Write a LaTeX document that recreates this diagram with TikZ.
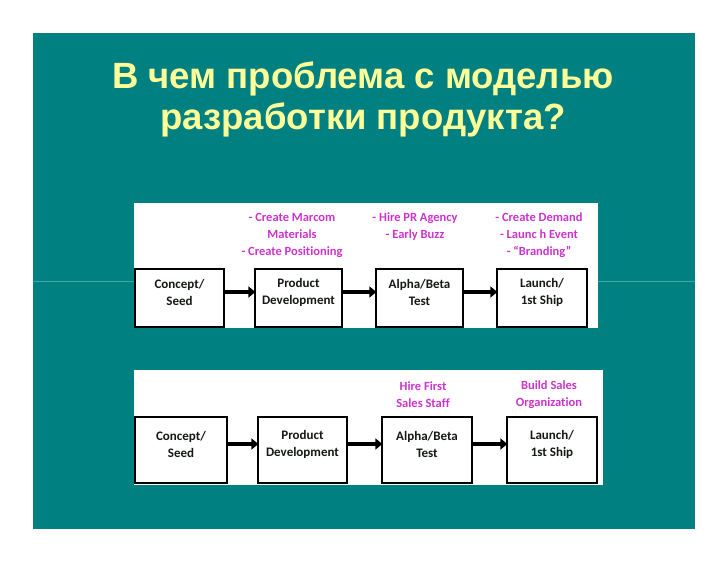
\documentclass[tikz,border=0pt]{standalone}
\usepackage{fontspec}
\setmainfont{Liberation Sans}
\newfontfamily\boxfont[Ligatures={NoCommon}]{Carlito}
\usetikzlibrary{arrows.meta}
\definecolor{teal1}{RGB}{0,128,128}
\definecolor{tealline}{RGB}{70,165,165}
\definecolor{titleyel}{RGB}{255,255,153}
\definecolor{magtext}{RGB}{204,51,204}
\definecolor{boxtext}{RGB}{20,25,20}
\tikzset{
  stagebox/.style={draw=black, line width=1.3pt, fill=white, inner sep=0pt},
  stagetext/.style={text=boxtext, font=\boxfont\bfseries\fontsize{13}{17}\selectfont, align=center, inner sep=0pt},
  notetext/.style={text=magtext, font=\boxfont\bfseries\fontsize{12.5}{17}\selectfont, align=center, inner sep=0pt},
  flowarrow/.style={line width=4pt, -{Triangle[length=7pt,width=11pt]}, shorten >=-1pt},
  titletext/.style={text=titleyel, font=\bfseries\fontsize{36.5}{41}\selectfont, inner sep=0pt, anchor=base}
}
\begin{document}
\begin{tikzpicture}[x=1pt,y=-1pt]
\useasboundingbox (0,0) rectangle (728,563);
\fill[white] (0,0) rectangle (728,563);
\fill[teal1] (33,33) rectangle (695,529);
\draw[tealline, line width=0.8pt] (33,281) -- (695,281);
% title
\node[titletext] (t1) at (363,88) {В чем проблема с моделью};
\node[titletext] (t2) at (363,129) {разработки продукта?};
% panel 1
\fill[white] (134,203) rectangle (598,328);
\node[stagebox, minimum width=89pt, minimum height=58pt] (a1) at (179.5,298) {};
\node[stagebox, minimum width=87pt, minimum height=58pt] (a2) at (298.5,298) {};
\node[stagebox, minimum width=87pt, minimum height=58pt] (a3) at (419.5,298) {};
\node[stagebox, minimum width=90pt, minimum height=58pt] (a4) at (542,298) {};
\node[stagetext] (a1t) at ([yshift=5.5pt]a1.center) {Concept/\\Seed};
\node[stagetext] (a2t) at ([yshift=5.5pt]a2.center) {Product\\Development};
\node[stagetext] (a3t) at ([yshift=5.5pt]a3.center) {Alpha/Beta\\Test};
\node[stagetext] (a4t) at ([yshift=5.5pt]a4.center) {Launch/\\1st Ship};
\draw[flowarrow] ([yshift=6pt]a1.east) -- ([yshift=6pt]a2.west);
\draw[flowarrow] ([yshift=6pt]a2.east) -- ([yshift=6pt]a3.west);
\draw[flowarrow] ([yshift=6pt]a3.east) -- ([yshift=6pt]a4.west);
\node[notetext] (n2) at (292,235) {- Create Marcom\\Materials\\- Create Positioning};
\node[notetext] (n3) at (415,226.5) {- Hire PR Agency\\- Early Buzz};
\node[notetext] (n4) at (539,235) {- Create Demand\\- Launc h Event\\- “Branding”};
% panel 2
\fill[white] (134,370) rectangle (603,485);
\node[stagebox, minimum width=92pt, minimum height=66pt] (b1) at (181,450) {};
\node[stagebox, minimum width=89pt, minimum height=66pt] (b2) at (302.5,450) {};
\node[stagebox, minimum width=90pt, minimum height=66pt] (b3) at (427,450) {};
\node[stagebox, minimum width=90pt, minimum height=66pt] (b4) at (552,450) {};
\node[stagetext] (b1t) at ([yshift=6pt]b1.center) {Concept/\\Seed};
\node[stagetext] (b2t) at ([yshift=6pt]b2.center) {Product\\Development};
\node[stagetext] (b3t) at ([yshift=6pt]b3.center) {Alpha/Beta\\Test};
\node[stagetext] (b4t) at ([yshift=6pt]b4.center) {Launch/\\1st Ship};
\draw[flowarrow] ([yshift=6pt]b1.east) -- ([yshift=6pt]b2.west);
\draw[flowarrow] ([yshift=6pt]b2.east) -- ([yshift=6pt]b3.west);
\draw[flowarrow] ([yshift=6pt]b3.east) -- ([yshift=6pt]b4.west);
\node[notetext] (m3) at (423,395) {Hire First\\Sales Staff};
\node[notetext] (m4) at (549,395) {Build Sales\\Organization};
\end{tikzpicture}
\end{document}
